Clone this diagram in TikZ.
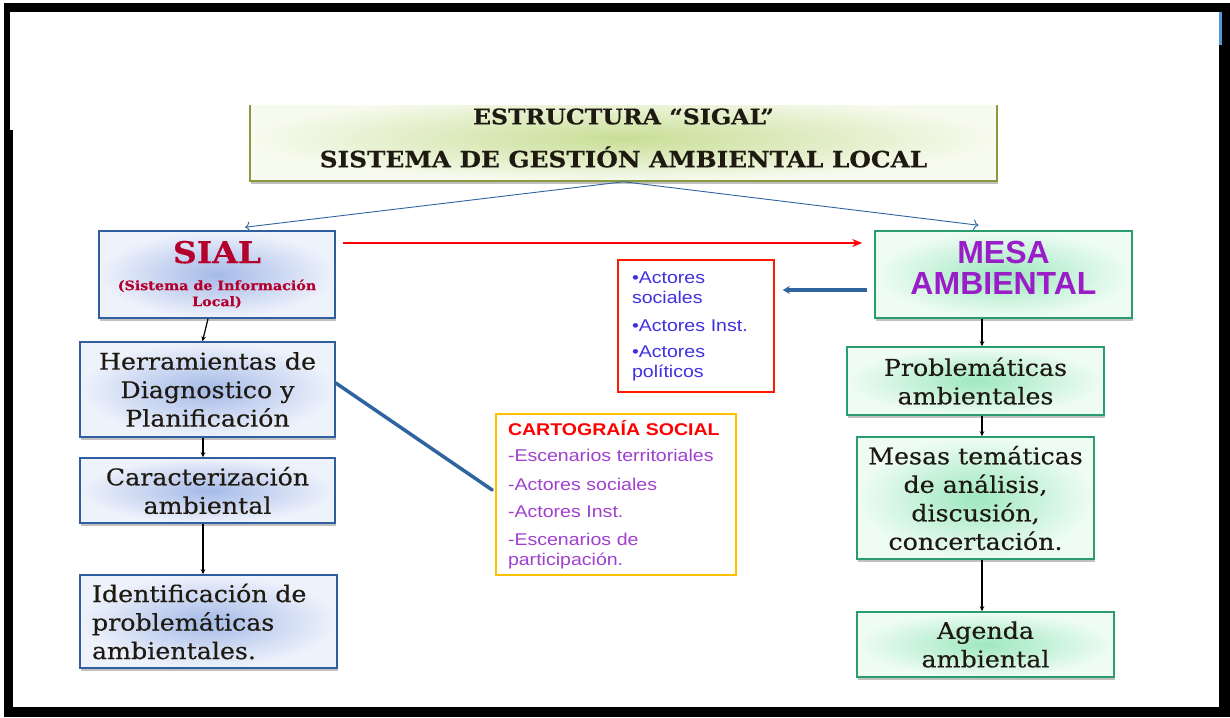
\documentclass[tikz,border=0pt]{standalone}
\usepackage{fontspec}
\setmainfont{DejaVu Serif}
\setsansfont{Liberation Sans}
\newfontfamily\boxfont[FakeStretch=1.1,FakeBold=0.4]{DejaVu Serif}
\newfontfamily\listfont[FakeStretch=1.15]{Liberation Sans}
\usetikzlibrary{arrows.meta,shadows}

\definecolor{boxblue}{HTML}{2F5F9E}
\definecolor{blueinner}{HTML}{A5BAE8}
\definecolor{blueouter}{HTML}{EEF2FB}
\definecolor{boxgreen}{HTML}{2A9D6E}
\definecolor{greeninner}{HTML}{9EE8BF}
\definecolor{greenouter}{HTML}{EFFCF4}
\definecolor{titleline}{HTML}{8A9A40}
\definecolor{titleinner}{HTML}{C8DE96}
\definecolor{titleouter}{HTML}{F7FAEE}
\definecolor{linkblue}{HTML}{2E64A0}
\definecolor{sialred}{HTML}{B3002D}
\definecolor{mesapurple}{HTML}{9A1EC8}
\definecolor{actorblue}{HTML}{4030E0}
\definecolor{cartopurple}{HTML}{A040D0}
\definecolor{boxtext}{HTML}{1E1A12}
\definecolor{cartogold}{HTML}{FFC000}

\begin{document}
\begin{tikzpicture}[x=1pt,y=-1pt,>=Stealth,
  shadowed/.style={drop shadow={shadow xshift=1pt,shadow yshift=-3pt,opacity=0.35,fill=black!70}},
  bluebox/.style={draw=boxblue,line width=1.5pt,shade,inner color=blueinner,outer color=blueouter,
    shadowed,text=boxtext,align=center,inner sep=0pt,font=\boxfont\fontsize{23}{28.5}\selectfont},
  greenbox/.style={draw=boxgreen,line width=1.5pt,shade,inner color=greeninner,outer color=greenouter,
    shadowed,text=boxtext,align=center,inner sep=0pt,font=\boxfont\fontsize{23}{28.5}\selectfont},
  listbox/.style={draw,line width=1.5pt,fill=white,align=left,inner sep=0pt,
    font=\listfont\fontsize{17}{20}\selectfont},
  flow/.style={->,line width=1.2pt,black,>={Stealth[length=5pt,width=4.5pt]}},
  thinlink/.style={line width=0.9pt,linkblue,-{To[length=5pt]}}]

\useasboundingbox (0,0) rectangle (1230,717);

% ---------- Frame ----------
\fill[black] (4,3) rectangle (1230,717);
\fill[white] (13,12) rectangle (1219,707);
\fill[white] (10,12) rectangle (13,130);
\fill[cyan!60!blue!70] (1219,12) rectangle (1222,45);

% ---------- Title ----------
\node[draw=titleline,line width=1.5pt,shade,inner color=titleinner,outer color=titleouter,
  shadowed,align=center,inner sep=0pt,minimum width=747pt,minimum height=86pt,text=boxtext,
  font=\boxfont\bfseries\fontsize{22.5}{26}\selectfont]
  (sigal) at (623.5,138)
  {{\fontsize{21.5}{26}\selectfont ESTRUCTURA “SIGAL”}\\[17pt]
   SISTEMA DE GESTIÓN AMBIENTAL LOCAL};
\fill[white] (10,12) rectangle (1219,105);

% ---------- Left column (SIAL) ----------
\node[bluebox,minimum width=236pt,minimum height=87pt,text=sialred,
  font=\boxfont\bfseries\fontsize{13}{16}\selectfont] (sial) at (217,274.5)
  {{\fontsize{30}{32}\selectfont SIAL}\\[11pt]
   (Sistema de Información\\Local)};
\node[bluebox,minimum width=255pt,minimum height=95pt] (herram) at (207.5,389.5)
  {Herramientas de\\Diagnostico y\\Planificación};
\node[bluebox,minimum width=255pt,minimum height=65pt] (caract) at (207.5,490.5)
  {Caracterización\\ambiental};
\node[bluebox,minimum width=257pt,minimum height=93pt,text width=233pt,align=left] (identif) at (208.5,621.5)
  {Identificación de\\problemáticas\\ambientales.};

% ---------- Right column (Mesa) ----------
\node[greenbox,minimum width=257pt,minimum height=87pt,text=mesapurple,text depth=14pt,
  font=\sffamily\bfseries\fontsize{32}{31}\selectfont] (mesa) at (1003.5,274.5)
  {MESA\\AMBIENTAL};
\node[greenbox,minimum width=257pt,minimum height=68pt] (problem) at (975.5,381)
  {Problemáticas\\ambientales};
\node[greenbox,minimum width=237pt,minimum height=122pt] (tematic) at (975.5,498)
  {Mesas temáticas\\de análisis,\\discusión,\\concertación.};
\node[greenbox,minimum width=257pt,minimum height=65pt] (agenda) at (985.5,644.5)
  {Agenda\\ambiental};

% ---------- Lists ----------
\node[listbox,draw=red!80!orange,text=actorblue,minimum width=156pt,minimum height=132pt,
  text width=128pt] (actores) at (696,326)
  {•Actores\\sociales\\[8pt]•Actores Inst.\\[6pt]•Actores\\políticos};
\node[listbox,draw=cartogold,text=cartopurple,minimum width=240pt,
  minimum height=161pt,text width=216pt] (carto) at (616,494.5)
  {\textcolor{red}{\bfseries CARTOGRAÍA SOCIAL}\\[6pt]-Escenarios territoriales\\[9pt]
   -Actores sociales\\[7pt]-Actores Inst.\\[8pt]-Escenarios de\\participación.};

% ---------- Connectors ----------
\draw[thinlink] (sigal.south) -- ([xshift=28pt,yshift=3pt]sial.north);
\draw[thinlink] (sigal.south) -- ([xshift=-25pt,yshift=5pt]mesa.north);
\draw[red,line width=2pt,-{Stealth[length=10pt,width=8pt]}]
  ([xshift=7pt,yshift=31.5pt]sial.east) -- ([xshift=-12pt,yshift=31.5pt]mesa.west);
\draw[linkblue,line width=3.5pt,-{Stealth[length=7pt,width=8pt]}]
  ([xshift=-7pt,yshift=-15.5pt]mesa.west) -- ([xshift=8pt,yshift=36pt]actores.east);
\draw[linkblue,line width=3.5pt,line cap=round]
  ([yshift=6.5pt]herram.east) -- ([xshift=-3pt,yshift=4.5pt]carto.west);

\draw[flow] ([xshift=-9pt]sial.south) -- ([xshift=-5pt]herram.north);
\draw[flow] ([xshift=-4.5pt]herram.south) -- ([xshift=-4.5pt]caract.north);
\draw[flow] ([xshift=-4.5pt]caract.south) -- ([xshift=-5.5pt]identif.north);
\draw[flow] ([xshift=-21.5pt]mesa.south) -- ([xshift=6.5pt]problem.north);
\draw[flow] ([xshift=6.5pt]problem.south) -- ([xshift=6.5pt]tematic.north);
\draw[flow] ([xshift=6.5pt]tematic.south) -- ([xshift=-3.5pt]agenda.north);

\end{tikzpicture}
\end{document}
